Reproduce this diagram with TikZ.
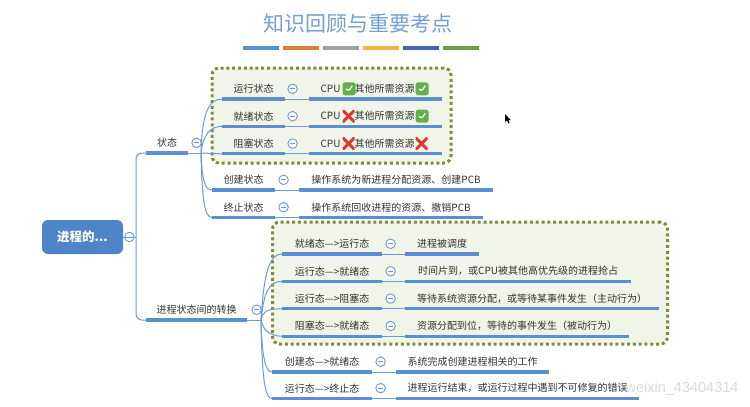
\documentclass[tikz,border=0pt]{standalone}
\usepackage{fontspec}
\setmainfont{Noto Sans CJK SC}
\newfontfamily\markfont{Liberation Sans}
\usetikzlibrary{positioning}
\definecolor{linkblue}{HTML}{6C9BD4}
\definecolor{ruleblue}{HTML}{5A8FD2}
\definecolor{rootblue}{HTML}{5084C8}
\definecolor{titleblue}{HTML}{72A0D2}
\definecolor{olive}{HTML}{7F8C3C}
\definecolor{paleolive}{HTML}{F1F4E8}
\definecolor{inkgray}{HTML}{333333}
\definecolor{barorange}{HTML}{E07B3C}
\definecolor{bargray}{HTML}{A0A0A0}
\definecolor{baryellow}{HTML}{F2B544}
\definecolor{barblue}{HTML}{3F67B4}
\definecolor{bargreen}{HTML}{6FA046}
\definecolor{tickgreen}{HTML}{62B04C}
\definecolor{crossred}{HTML}{DC3A2E}
\newcommand{\rowheight}{20pt}
\newcommand{\bodyfont}{\fontsize{10}{12}\selectfont}
\tikzstyle{rule} = [% thick line under a topic
  line width=3.2pt,
  draw=ruleblue
  ]
\tikzstyle{topic} = [% text standing on a thick line
  rectangle,
  inner sep=0pt,
  minimum height=\rowheight,
  text centered,
  text=inkgray,
  font=\bodyfont,
  append after command={(\tikzlastnode.south west) edge[rule] (\tikzlastnode.south east)}
  ]
\tikzstyle{root} = [% central topic
  rectangle,
  rounded corners=6pt,
  minimum width=81pt,
  minimum height=34pt,
  fill=rootblue,
  text=white,
  font=\fontsize{12.5}{14}\selectfont\bfseries
  ]
\tikzstyle{fold} = [% collapse button
  circle,
  inner sep=0pt,
  minimum size=9.5pt,
  draw=linkblue,
  line width=0.9pt,
  fill=white,
  path picture={\draw[linkblue, line width=0.8pt]
    ([xshift=-2.4pt]path picture bounding box.center) --
    ([xshift=2.4pt]path picture bounding box.center);}
  ]
\tikzstyle{group} = [% dotted frame behind some rows
  rectangle,
  rounded corners=7pt,
  draw=olive,
  fill=paleolive,
  line width=3pt,
  dash pattern=on 3pt off 2.8pt
  ]
\tikzstyle{bar} = [% title decoration
  rectangle,
  inner sep=0pt,
  minimum width=36pt,
  minimum height=3.4pt
  ]
\tikzstyle{checked} = [% green tick
  rectangle,
  rounded corners=2.5pt,
  inner sep=0pt,
  minimum size=13pt,
  fill=tickgreen,
  path picture={\draw[white, line width=1.3pt]
    ([xshift=-3pt,yshift=0pt]path picture bounding box.center) --
    ([xshift=-0.8pt,yshift=-2.6pt]path picture bounding box.center) --
    ([xshift=3.2pt,yshift=3pt]path picture bounding box.center);}
  ]
\tikzstyle{crossed} = [% red cross
  rectangle,
  inner sep=0pt,
  minimum size=12pt,
  path picture={\draw[crossred, line width=3pt]
    (path picture bounding box.south west) -- (path picture bounding box.north east)
    (path picture bounding box.north west) -- (path picture bounding box.south east);}
  ]
\tikzstyle{link} = [% thin connector
  linkblue,
  line width=1pt
  ]

\begin{document}
\begin{tikzpicture}[x=1pt, y=-1pt]
\useasboundingbox (0,0) rectangle (750,407);

%%% Title
\node[text=titleblue, font=\fontsize{21}{24}\selectfont] (title) at (358,24) {知识回顾与重要考点};
\node[bar, fill=ruleblue] (bara) at (261,48) {};
\node[bar, fill=barorange] (barb) [right=3.6pt of bara] {};
\node[bar, fill=bargray] (barc) [right=3.6pt of barb] {};
\node[bar, fill=baryellow] (bard) [right=3.6pt of barc] {};
\node[bar, fill=barblue] (bare) [right=3.6pt of bard] {};
\node[bar, fill=bargreen] (barf) [right=3.6pt of bare] {};

%%% Frames
\node[group, minimum width=239pt, minimum height=95pt] (stategroup) at (331.5,115.5) {};
\node[group, minimum width=395pt, minimum height=122pt] (changegroup) at (470,283) {};

%%% Nodes
\node[root] (root) at (82.5,237) {进程的...};
\node[fold] (rootfold) [right=1pt of root] {};
\coordinate (rootfork) at (136,237);

\node[topic, minimum width=42pt, anchor=south west] (state) at (146,153) {状态};
\node[fold] (statefold) [right=3pt of state] {};
\coordinate (statefork) at (201,153);

\node[topic, minimum width=63pt, anchor=south west] (run) at (222,99) {运行状态};
\node[fold] (runfold) [right=2pt of run] {};
\node[topic, minimum width=132pt, text width=110pt, align=left] (runans) [right=24pt of run] {CPU\hspace*{14pt}其他所需资源};
\node[checked] (runa) [right=33pt of runans.west, anchor=west] {};
\node[checked] (runb) [right=106pt of runans.west, anchor=west] {};

\node[topic, minimum width=63pt] (ready) [below=7pt of run] {就绪状态};
\node[fold] (readyfold) [right=2pt of ready] {};
\node[topic, minimum width=132pt, text width=110pt, align=left] (readyans) [right=24pt of ready] {CPU\hspace*{14pt}其他所需资源};
\node[crossed] (readya) [right=33pt of readyans.west, anchor=west] {};
\node[checked] (readyb) [right=106pt of readyans.west, anchor=west] {};

\node[topic, minimum width=63pt] (block) [below=7pt of ready] {阻塞状态};
\node[fold] (blockfold) [right=2pt of block] {};
\node[topic, minimum width=132pt, text width=110pt, align=left] (blockans) [right=24pt of block] {CPU\hspace*{14pt}其他所需资源};
\node[crossed] (blocka) [right=33pt of blockans.west, anchor=west] {};
\node[crossed] (blockb) [right=106pt of blockans.west, anchor=west] {};

\node[topic, minimum width=63pt, anchor=south west] (create) at (212,190) {创建状态};
\node[fold] (createfold) [right=3pt of create] {};
\node[topic, minimum width=193pt] (createans) [right=24pt of create] {操作系统为新进程分配资源、创建PCB};

\node[topic, minimum width=63pt] (stop) [below=7pt of create] {终止状态};
\node[fold] (stopfold) [right=3pt of stop] {};
\node[topic, minimum width=183pt] (stopans) [right=24pt of stop] {操作系统回收进程的资源、撤销PCB};

\node[topic, minimum width=101pt, anchor=south west] (change) at (146,320) {进程状态间的转换};
\node[fold] (changefold) [right=4pt of change] {};
\coordinate (changefork) at (261,320);

\node[topic, minimum width=100pt, anchor=south west] (dispatch) at (282,254) {就绪态—>运行态};
\node[fold] (dispatchfold) [right=3pt of dispatch] {};
\node[topic, minimum width=73pt] (dispatchans) [right=23pt of dispatch] {进程被调度};

\node[topic, minimum width=100pt] (timeout) [below=7pt of dispatch] {运行态—>就绪态};
\node[fold] (timeoutfold) [right=3pt of timeout] {};
\node[topic, minimum width=225pt] (timeoutans) [right=23pt of timeout] {时间片到，或CPU被其他高优先级的进程抢占};

\node[topic, minimum width=100pt] (wait) [below=7pt of timeout] {运行态—>阻塞态};
\node[fold] (waitfold) [right=3pt of wait] {};
\node[topic, minimum width=253pt] (waitans) [right=23pt of wait] {等待系统资源分配，或等待某事件发生（主动行为）};

\node[topic, minimum width=100pt] (wake) [below=7pt of wait] {阻塞态—>就绪态};
\node[fold] (wakefold) [right=3pt of wake] {};
\node[topic, minimum width=223pt] (wakeans) [right=23pt of wake] {资源分配到位，等待的事件发生（被动行为）};

\node[topic, minimum width=100pt, anchor=south west] (admit) at (272,372) {创建态—>就绪态};
\node[fold] (admitfold) [right=3pt of admit] {};
\node[topic, minimum width=152pt] (admitans) [right=24pt of admit] {系统完成创建进程相关的工作};

\node[topic, minimum width=100pt] (finish) [below=6pt of admit] {运行态—>终止态};
\node[fold] (finishfold) [right=3pt of finish] {};
\node[topic, minimum width=242pt] (finishans) [right=24pt of finish] {进程运行结束，或运行过程中遇到不可修复的错误};

\node[text=gray!30, font=\markfont\fontsize{14.5}{16}\selectfont, anchor=east] (mark) at (742,389) {weixin\_43404314};

%%% Arrows
\draw[link] (root.east) -- (rootfork);
\draw[link, rounded corners=6pt] (state.south west) -| (rootfork) |- (change.south west);

\draw[link] (state.south east) -- (statefork);
\draw[link] (statefork) .. controls +(1,-38) and +(-14,0) .. (run.south west);
\draw[link] (statefork) .. controls +(2,-18) and +(-12,0) .. (ready.south west);
\draw[link] (statefork) -- (block.south west);
\draw[link] (statefork) .. controls +(1,24) and +(-8,0) .. (create.south west);
\draw[link] (statefork) .. controls +(1,44) and +(-8,0) .. (stop.south west);

\draw[link] (run.south east) -- (runans.south west);
\draw[link] (ready.south east) -- (readyans.south west);
\draw[link] (block.south east) -- (blockans.south west);
\draw[link] (create.south east) -- (createans.south west);
\draw[link] (stop.south east) -- (stopans.south west);

\draw[link] (change.south east) -- (changefork);
\draw[link] (changefork) .. controls +(3,-50) and +(-12,0) .. (dispatch.south west);
\draw[link] (changefork) .. controls +(3,-30) and +(-12,0) .. (timeout.south west);
\draw[link] (changefork) .. controls +(2,-10) and +(-12,0) .. (wait.south west);
\draw[link] (changefork) .. controls +(2,10) and +(-12,0) .. (wake.south west);
\draw[link] (changefork) .. controls +(1,40) and +(-6,0) .. (admit.south west);
\draw[link] (changefork) .. controls +(1,66) and +(-6,0) .. (finish.south west);

\draw[link] (dispatch.south east) -- (dispatchans.south west);
\draw[link] (timeout.south east) -- (timeoutans.south west);
\draw[link] (wait.south east) -- (waitans.south west);
\draw[link] (wake.south east) -- (wakeans.south west);
\draw[link] (admit.south east) -- (admitans.south west);
\draw[link] (finish.south east) -- (finishans.south west);

%%% Mouse pointer
\fill[black] (505,114) -- (505,122) -- (507,120.5) -- (508.5,123.5) -- (509.7,123) -- (508.3,120) -- (510.5,120) -- cycle;

\end{tikzpicture}
\end{document}
